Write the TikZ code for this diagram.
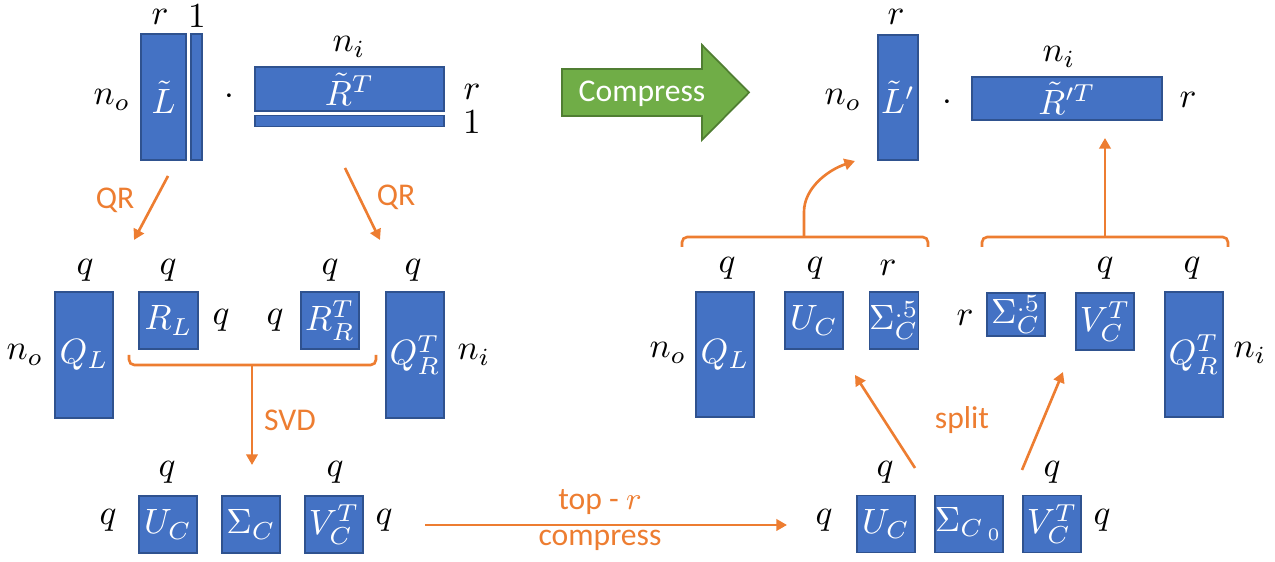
\documentclass[tikz,border=0pt]{standalone}
\usepackage{amsmath}
\usepackage{fontspec}
\newfontfamily\calibri{Carlito}
\usetikzlibrary{calc, arrows.meta}

\definecolor{matblue}{HTML}{4472C4}
\definecolor{matedge}{HTML}{2F528F}
\definecolor{orng}{HTML}{ED7D31}
\definecolor{grn}{HTML}{70AD47}
\definecolor{grnedge}{HTML}{507E32}

\tikzset{
  mat/.style={draw=matedge, fill=matblue, line width=0.4pt, text=white,
    inner sep=0pt, font=\fontsize{10}{12}\selectfont},
  sz/.style 2 args={minimum width=#1*0.01cm, minimum height=#2*0.01cm},
  dim/.style={inner sep=0pt, font=\fontsize{10}{12}\selectfont},
  op/.style={draw=orng, line width=0.75pt},
  oparrow/.style={op, -{Triangle[length=3pt, width=3.2pt]}},
  oplabel/.style={text=orng, inner sep=0pt, font=\calibri\fontsize{9}{10}\selectfont},
}

\begin{document}
\begin{tikzpicture}[x=0.01cm, y=-0.01cm]
  \useasboundingbox (0,0) rectangle (1275,562);

  % --- factors before compression
  \node[mat, sz={45}{126}] (Lt)  at (163.5,97) {$\tilde{L}$};
  \node[mat, sz={11}{126}] (Lt1) at (196.5,97) {};
  \node[mat, sz={189}{44}] (Rt)  at (349.5,89) {$\tilde{R}^T$};
  \node[mat, sz={189}{11}] (Rt1) at (349.5,121) {};
  \node[dim] (LtR)  at (160,17)  {$r$};
  \node[dim] (LtOne) at (197,16) {$1$};
  \node[dim] (LtNo) at (112,100) {$n_o$};
  \node[dim] (dotA) at (229,97)  {$\cdot$};
  \node[dim] (RtNi) at (349,47)  {$n_i$};
  \node[dim] (RtR)  at (472,92)  {$r$};
  \node[dim] (RtOne) at (472,122) {$1$};

  % --- compress arrow
  \filldraw[fill=grn, draw=grnedge, line width=0.5pt]
    (562,69) -- (702,69) -- (702,45) -- (749,92.5) -- (702,140) -- (702,116) -- (562,116) -- cycle;
  \node[text=white, inner sep=0pt, font=\calibri\fontsize{9}{10}\selectfont] (compress) at (642,94) {Compress};

  % --- factors after compression
  \node[mat, sz={40}{125}] (Lp) at (898,97.5) {$\tilde{L}'$};
  \node[mat, sz={190}{43}] (Rp) at (1067,98.5) {$\tilde{R}'^T$};
  \node[dim] (LpR)  at (896,17)   {$r$};
  \node[dim] (LpNo) at (843,100)  {$n_o$};
  \node[dim] (dotB) at (947,103)  {$\cdot$};
  \node[dim] (RpNi) at (1059,57)  {$n_i$};
  \node[dim] (RpR)  at (1188,100) {$r$};

  % --- QR step
  \node[mat, sz={58}{126}] (QL) at (84,355)    {$Q_L$};
  \node[mat, sz={59}{57}]  (RL) at (168.5,320.5) {$R_L$};
  \node[mat, sz={58}{57}]  (RR) at (330,320.5)   {$R_R^T$};
  \node[mat, sz={58}{126}] (QR) at (415,355)   {$Q_R^T$};
  \node[dim] (QLq) at (85,270)  {$q$};
  \node[dim] (RLq) at (168,270) {$q$};
  \node[dim] (RRq) at (330,270) {$q$};
  \node[dim] (QRq) at (413,270) {$q$};
  \node[dim] (RLs) at (221,320) {$q$};
  \node[dim] (RRs) at (275,320) {$q$};
  \node[dim] (QLno) at (25,355)  {$n_o$};
  \node[dim] (QRni) at (474,355) {$n_i$};

  \coordinate (qrLs) at (168,176);
  \coordinate (qrLe) at (134,240);
  \coordinate (qrRs) at (345,168);
  \coordinate (qrRe) at (380,240);
  \draw[oparrow] (qrLs) -- (qrLe);
  \draw[oparrow] (qrRs) -- (qrRe);
  \node[oplabel] (qrLlab) at (115,200) {QR};
  \node[oplabel] (qrRlab) at (396,197) {QR};

  % --- SVD of R_L R_R^T
  \draw[op, rounded corners=1.5pt] (129,355) -- (129,365) -- (376,365) -- (376,355);
  \coordinate (svdS) at (252,365);
  \coordinate (svdE) at (252,465);
  \draw[oparrow] (svdS) -- (svdE);
  \node[oplabel] (svdlab) at (290,420) {SVD};

  \node[mat, sz={58}{57}] (UC) at (168,524.5) {$U_C$};
  \node[mat, sz={58}{57}] (SC) at (251,524.5) {$\Sigma_C$};
  \node[mat, sz={58}{57}] (VC) at (334,524.5) {$V_C^T$};
  \node[dim] (UCq)  at (167,472) {$q$};
  \node[dim] (VCq)  at (335,472) {$q$};
  \node[dim] (UCs)  at (108,520) {$q$};
  \node[dim] (VCs)  at (384,520) {$q$};

  % --- top-r
  \coordinate (topS) at (425,525);
  \coordinate (topE) at (787,525);
  \draw[oparrow] (topS) -- (topE);
  \node[oplabel] (toplab)  at (600,502) {top - $r$};
  \node[oplabel] (complab) at (600,540) {compress};

  \node[mat, sz={58}{57}] (UCb) at (886,524) {$U_C$};
  \node[mat, sz={58}{57}] (SCb) at (969,524) {$\Sigma_{C_{\;0}}$};
  \node[mat, sz={58}{57}] (VCb) at (1052,524) {$V_C^T$};
  \node[dim] (UCbq) at (885,472)  {$q$};
  \node[dim] (VCbq) at (1052,472) {$q$};
  \node[dim] (UCbs) at (824,520)  {$q$};
  \node[dim] (VCbs) at (1102,520) {$q$};

  % --- split
  \coordinate (spLs) at (915,468);
  \coordinate (spLe) at (855,375);
  \coordinate (spRs) at (1022,470);
  \coordinate (spRe) at (1063,372);
  \draw[oparrow] (spLs) -- (spLe);
  \draw[oparrow] (spRs) -- (spRe);
  \node[oplabel] (splitlab) at (962,420) {split};

  \node[mat, sz={58}{125}] (QLc) at (725,354.5)  {$Q_L$};
  \node[mat, sz={58}{57}]  (UCc) at (814,320.5)  {$U_C$};
  \node[mat, sz={44}{57}]  (SHl) at (894,320.5)  {$\Sigma_C^{.5}$};
  \node[mat, sz={58}{43}]  (SHr) at (1016,314.5) {$\Sigma_C^{.5}$};
  \node[mat, sz={58}{57}]  (VCc) at (1105,321.5) {$V_C^T$};
  \node[mat, sz={58}{125}] (QRc) at (1194,354.5) {$Q_R^T$};
  \node[dim] (QLcq) at (727,268)  {$q$};
  \node[dim] (UCcq) at (815,268)  {$q$};
  \node[dim] (SHlr) at (888,268)  {$r$};
  \node[dim] (VCcq) at (1105,268) {$q$};
  \node[dim] (QRcq) at (1192,268) {$q$};
  \node[dim] (SHrr) at (965,318)  {$r$};
  \node[dim] (QLcno) at (668,353) {$n_o$};
  \node[dim] (QRcni) at (1250,353) {$n_i$};

  % --- merge back
  \draw[op, rounded corners=1.5pt] (682,247) -- (682,237) -- (928,237) -- (928,247);
  \draw[op, rounded corners=1.5pt] (982,247) -- (982,237) -- (1228,237) -- (1228,247);
  \coordinate (mgLs) at (804,237);
  \coordinate (mgLe) at (855,161);
  \coordinate (mgRs) at (1105,237);
  \coordinate (mgRe) at (1105,138);
  \draw[oparrow] (mgLs) -- (804,212) .. controls (804,188) and (828,170) .. (mgLe);
  \draw[oparrow] (mgRs) -- (mgRe);
\end{tikzpicture}
\end{document}
